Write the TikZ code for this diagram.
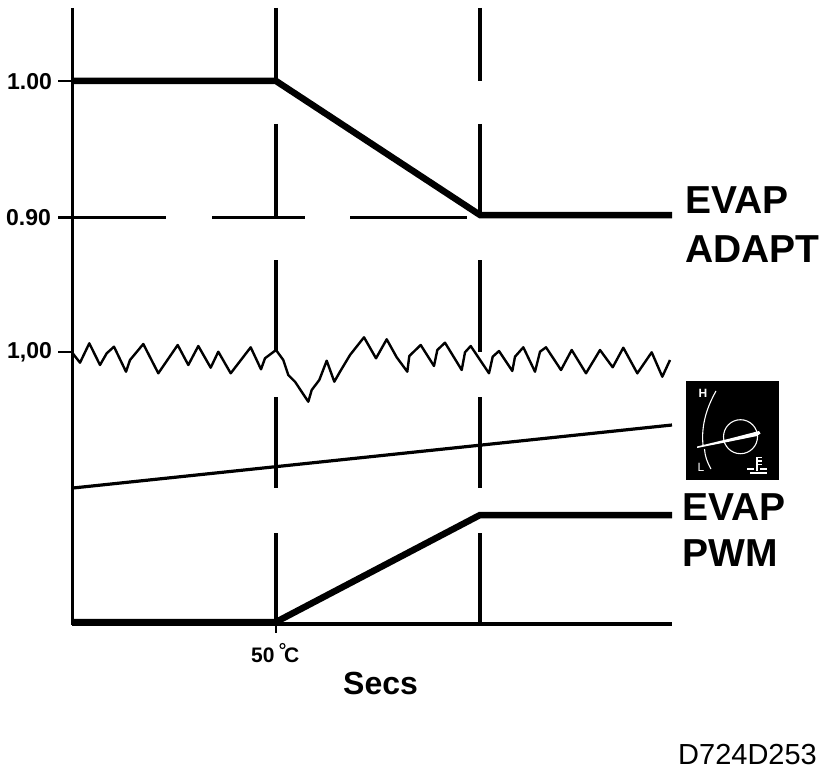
\documentclass[tikz,border=0pt]{standalone}
\usepackage{fontspec}
\setmainfont{Liberation Sans}
\tikzset{
  axisline/.style={line width=3.2pt,black},
  thinrule/.style={line width=2.8pt,black},
  heavy/.style={line width=6.5pt,black,line join=miter},
  wiggle/.style={line width=2.4pt,black,line join=round},
  iconline/.style={line width=1.1pt,white},
  tick label/.style={font=\bfseries\fontsize{23}{23}\selectfont,inner sep=0pt,anchor=west},
  big label/.style={font=\bfseries\fontsize{39}{39}\selectfont,inner sep=0pt,anchor=west},
}
\begin{document}
\begin{tikzpicture}[x=1pt,y=-1pt]
\useasboundingbox (0,0) rectangle (832,778);
% axes
\draw[axisline] (72.7,8) -- (72.7,625);
\draw[axisline] (72,624) -- (672,624);
% vertical guides
\foreach \x in {276,480}{
  \foreach \a/\b in {8/81,124/216,260/352,397/488,533/622}{
    \draw[line width=3.6pt] (\x,\a) -- (\x,\b);
  }
}
\draw[line width=2pt] (276,622) -- (276,633);
% ticks
\draw[thinrule] (58,81) -- (73,81);
\draw[thinrule] (58,352) -- (73,352);
\draw[thinrule] (58,217.5) -- (166,217.5);
\draw[thinrule] (212,217.5) -- (305,217.5);
\draw[thinrule] (350,217.5) -- (467,217.5);
% adapt curve
\coordinate (a1) at (73,81);
\coordinate (a2) at (276,81);
\coordinate (a3) at (480,215);
\coordinate (a4) at (672,215);
\draw[heavy] (a1) -- (a2) -- (a3) -- (a4);
% pwm curve
\coordinate (p1) at (72,622);
\coordinate (p2) at (276,622);
\coordinate (p3) at (480,515);
\coordinate (p4) at (672,515);
\draw[heavy] (p1) -- (p2) -- (p3) -- (p4);
% temperature line
\coordinate (t1) at (73,488);
\coordinate (t2) at (672,425);
\draw[line width=3.2pt] (t1) -- (t2);
% noisy signal
\draw[wiggle] (72.7,353.3) -- (80,362.7) -- (89.3,343.3) -- (100,365) -- (106.7,353.3) -- (114,346.7) -- (126,371.7) -- (130,360) -- (143.3,344) -- (158.3,373.3) -- (177.7,345) -- (188.3,365) -- (198.3,346) -- (210.7,367.7) -- (218.3,351.7) -- (230.7,373.3) -- (250.7,347.3) -- (261,369.3) -- (265,358.3) -- (276,350) -- (283.3,360) -- (288.3,375) -- (295,381.7) -- (308.3,401.7) -- (311.7,390) -- (319.3,380) -- (326.7,360.7) -- (334.3,381.7) -- (340,371.7) -- (350,355) -- (364,337.3) -- (376,358.3) -- (386.7,339.3) -- (396.7,357.3) -- (407.3,371.7) -- (409.3,356) -- (420.7,345) -- (434,366) -- (437.3,350) -- (445,342.7) -- (461.7,370) -- (465,352.3) -- (470.7,346) -- (489,373.3) -- (492.7,356.7) -- (499,351) -- (512.3,371) -- (515,356.7) -- (523.3,347.3) -- (535,371.7) -- (540,351.7) -- (546,347.3) -- (561,370) -- (571.7,350) -- (586,373.3) -- (600,350) -- (612.7,367.3) -- (623.3,347.7) -- (637.3,373.3) -- (651.7,352.3) -- (662.3,376.7) -- (670,360);
% labels
\node[tick label] (l100) at (7,82) {1.00};
\node[tick label] (l090) at (6,218) {0.90};
\node[tick label] (l100b) at (7,352) {1,00};
\node[big label] (evap1) at (685,200) {EVAP};
\node[big label] (adapt) at (685,249) {ADAPT};
\node[big label] (evap2) at (682,507) {EVAP};
\node[big label] (pwm) at (682,553) {PWM};
\node[inner sep=0pt,anchor=west,font=\bfseries\fontsize{21}{21}\selectfont] (fifty) at (251,655) {50};
\node[inner sep=0pt,anchor=west,font=\bfseries\fontsize{21}{21}\selectfont] (cel) at (284,655) {C};
\draw[line width=1.1pt] (282.5,646) circle (2.5);
\node[inner sep=0pt,anchor=west,font=\bfseries\fontsize{32}{32}\selectfont] (secs) at (343,683) {Secs};
\node[inner sep=0pt,anchor=west,font=\fontsize{29}{29}\selectfont] (code) at (678,755) {D724D253};
% gauge icon
\fill[black] (686,381) rectangle (779,479.5);
\draw[iconline] (716,391) .. controls (707,407) and (701,425) .. (703,445);
\draw[iconline] (704.5,449) .. controls (705,456) and (707,462) .. (711,469);
\draw[iconline] (740.5,436.7) circle (17);
\fill[white] (697,446.5) -- (730,438.5) -- (759,431) -- (760.5,433.5) -- (757,436) -- (730,441.5) -- (697,448) -- cycle;
\node[inner sep=0pt,anchor=center,text=white,font=\bfseries\fontsize{12}{12}\selectfont] (iconh) at (703,393) {H};
\node[inner sep=0pt,anchor=center,text=white,font=\fontsize{12}{12}\selectfont] (iconl) at (701,467) {L};
\draw[iconline] (757,457) -- (757,471);
\draw[iconline] (757,457.5) -- (762,457.5) (757,461) -- (762,461) (757,464.5) -- (762,464.5);
\draw[iconline] (747,469) -- (754,469) (760,469) -- (767,469) (750,473) -- (767,473);
\end{tikzpicture}
\end{document}
